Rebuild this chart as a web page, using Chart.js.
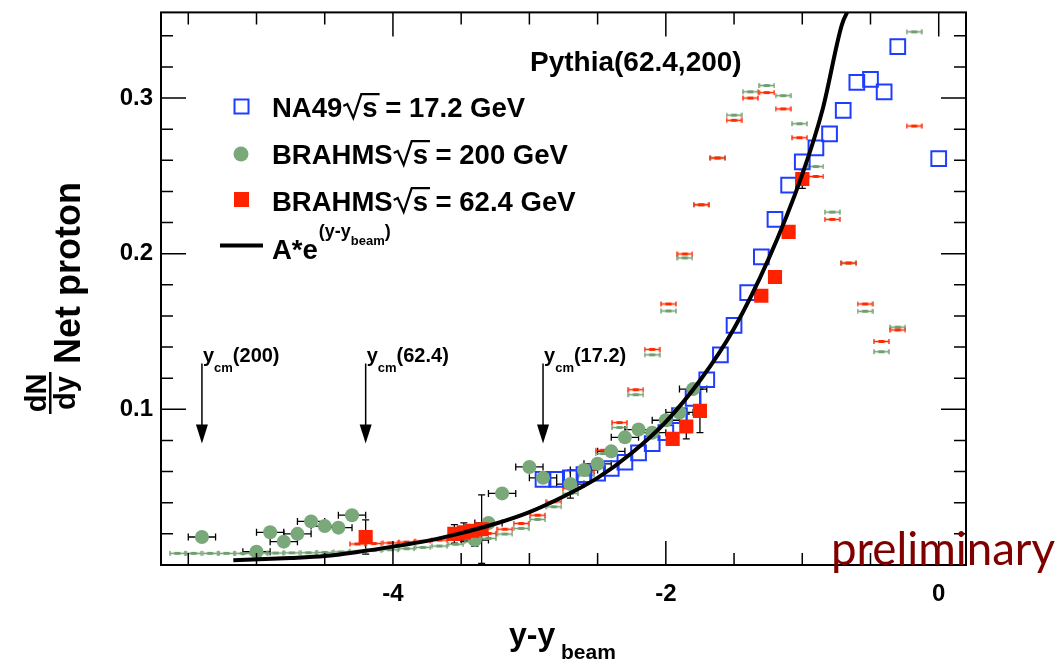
<!DOCTYPE html>
<html>
<head>
<meta charset="utf-8">
<script src="https://cdn.jsdelivr.net/npm/chart.js@4.4.1/dist/chart.umd.min.js"></script>
<style>
	html, body { margin: 0; padding: 0; background: #fff; }
</style>
</head>
<body>
<canvas id="chart" width="1062" height="664"></canvas>
<script>
const FONT = '"Liberation Sans", Arial, Helvetica, sans-serif';
const BLUE = "#1f3dff";
const RED = "#ff2200";
const GREEN = "#79a879";
const PY_GREEN = "#6f9f6f";
const PY_RED = "#ff2a00";

const X_RANGE = [-5.7, 0.2];
const Y_RANGE = [0, 0.355];
const X_TICK_LABELS = [-4, -2, 0];
const Y_TICK_LABELS = [0.1, 0.2, 0.3];

const NA49_X = [-2.9, -2.8, -2.7, -2.6, -2.5, -2.4, -2.3, -2.2, -2.1, -2.0, -1.9, -1.8, -1.7, -1.6, -1.5, -1.4, -1.3, -1.2, -1.1, -1.0, -0.9, -0.8, -0.7, -0.6, -0.5, -0.4, -0.3, 0.0];
const NA49_Y = [0.055, 0.055, 0.056, 0.058, 0.059, 0.062, 0.066, 0.072, 0.078, 0.085, 0.096, 0.107, 0.119, 0.135, 0.154, 0.175, 0.198, 0.222, 0.244, 0.259, 0.268, 0.277, 0.292, 0.310, 0.312, 0.304, 0.333, 0.261];

const BR200_X = [-5.4, -5.0, -4.9, -4.8, -4.7, -4.6, -4.5, -4.4, -4.3, -3.4, -3.3, -3.2, -3.0, -2.9, -2.7, -2.6, -2.5, -2.4, -2.3, -2.2, -2.1, -2.0, -1.9, -1.8];
const BR200_Y = [0.018, 0.0085, 0.021, 0.015, 0.020, 0.028, 0.025, 0.024, 0.032, 0.016, 0.027, 0.046, 0.063, 0.056, 0.052, 0.061, 0.065, 0.073, 0.082, 0.087, 0.085, 0.093, 0.098, 0.113];
const BR200_XERR = [0.1, 0.1, 0.1, 0.1, 0.1, 0.1, 0.1, 0.1, 0.1, 0.1, 0.1, 0.1, 0.1, 0.1, 0.1, 0.1, 0.1, 0.1, 0.1, 0.1, 0.1, 0.1, 0.1, 0.1];
const BR200_YERR = [0, 0, 0, 0, 0, 0, 0, 0, 0, 0.004, 0, 0, 0, 0, 0.009, 0, 0, 0, 0, 0, 0, 0, 0, 0];

const BR62_X = [-4.2, -3.55, -3.48, -3.42, -3.35, -1.95, -1.85, -1.75, -1.3, -1.2, -1.1, -1.0];
const BR62_Y = [0.018, 0.020, 0.021, 0.022, 0.023, 0.081, 0.089, 0.099, 0.173, 0.185, 0.214, 0.248];
const BR62_YERR = [0.011, 0.006, 0.006, 0.004, 0.022, 0, 0.008, 0.014, 0, 0, 0, 0.006];

const FIT_X = [-5.17, -4.75, -4.5, -4.25, -4.0, -3.75, -3.5, -3.25, -3.0, -2.75, -2.5, -2.25, -2.0, -1.75, -1.5, -1.25, -1.0, -0.85, -0.71, -0.66];
const FIT_Y = [0.0030, 0.0045, 0.0058, 0.0085, 0.0118, 0.0155, 0.0205, 0.0265, 0.0340, 0.0440, 0.0560, 0.0720, 0.0920, 0.1185, 0.1520, 0.1960, 0.2510, 0.2930, 0.3470, 0.3570];

const PY200_X = [-5.58, -5.46, -5.34, -5.22, -5.10, -4.98, -4.86, -4.74, -4.62, -4.50, -4.38, -4.26, -4.14, -4.02, -3.90, -3.78, -3.66, -3.54, -3.42, -3.30, -3.18, -3.06, -2.94, -2.82, -2.70, -2.58, -2.46, -2.34, -2.22, -2.10, -1.98, -1.86, -1.74, -1.62, -1.50, -1.38, -1.26, -1.14, -1.02, -0.90, -0.78, -0.66, -0.54, -0.42, -0.30, -0.18];
const PY200_Y = [0.0075, 0.0075, 0.0075, 0.0075, 0.0075, 0.0076, 0.0077, 0.0078, 0.0079, 0.0081, 0.0084, 0.0088, 0.0093, 0.0098, 0.0105, 0.0113, 0.0122, 0.0133, 0.0150, 0.0171, 0.0199, 0.0235, 0.0293, 0.0374, 0.0460, 0.0577, 0.0716, 0.0883, 0.1094, 0.1350, 0.1632, 0.1973, 0.2314, 0.2615, 0.2890, 0.3040, 0.3080, 0.3015, 0.2835, 0.2560, 0.2267, 0.1940, 0.1630, 0.1370, 0.1528, 0.3425];

const PY62_X = [-4.26, -4.14, -4.02, -3.90, -3.78, -3.66, -3.54, -3.42, -3.30, -3.18, -3.06, -2.94, -2.82, -2.70, -2.58, -2.46, -2.34, -2.22, -2.10, -1.98, -1.86, -1.74, -1.62, -1.50, -1.38, -1.26, -1.14, -1.02, -0.90, -0.78, -0.66, -0.54, -0.42, -0.30, -0.18];
const PY62_Y = [0.0135, 0.0138, 0.0142, 0.0147, 0.0153, 0.0160, 0.0170, 0.0185, 0.0203, 0.0230, 0.0267, 0.0320, 0.0406, 0.0492, 0.0598, 0.0737, 0.0915, 0.1126, 0.1385, 0.1677, 0.1998, 0.2314, 0.2615, 0.2857, 0.3000, 0.3035, 0.2930, 0.2745, 0.2496, 0.2220, 0.1940, 0.1677, 0.1436, 0.1510, 0.2820];

const YCM_X = [-5.4, -4.2, -2.9];
const YCM_LABELS = ["(200)", "(62.4)", "(17.2)"];
const YCM_TOP = 0.1295;
const YCM_TIP = 0.078;

const toPoints = (xs, ys) => xs.map((v, i) => ({ x: v, y: ys[i] }));

// small ROOT-like bin marker: horizontal bar with end caps and a thicker centre
const binMarker = (color) => {
	const c = document.createElement("canvas");
	c.width = 17;
	c.height = 7;
	const g = c.getContext("2d");
	g.strokeStyle = color;
	g.fillStyle = color;
	g.lineWidth = 1.4;
	g.beginPath();
	g.moveTo(0.5, 3.5);
	g.lineTo(16.5, 3.5);
	g.moveTo(1, 1);
	g.lineTo(1, 6);
	g.moveTo(16, 1);
	g.lineTo(16, 6);
	g.stroke();
	g.fillRect(5.5, 2, 6, 3);
	return c;
};

// text with a ROOT style radical drawn over "s"
const sqrtText = (ctx, x, yb, pre, post, size) => {
	ctx.font = `bold ${size}px ${FONT}`;
	ctx.textAlign = "left";
	ctx.textBaseline = "alphabetic";
	ctx.fillText(pre, x, yb);
	x += ctx.measureText(pre).width + 1;
	const ws = ctx.measureText("s").width;
	const top = yb - size * 0.83;
	ctx.lineWidth = 2.2;
	ctx.lineJoin = "miter";
	ctx.beginPath();
	ctx.moveTo(x, yb - size * 0.4);
	ctx.lineTo(x + 4, yb - size * 0.47);
	ctx.lineTo(x + 10, yb + 1);
	ctx.lineTo(x + 18, top);
	ctx.lineTo(x + 20 + ws + 1, top);
	ctx.stroke();
	ctx.fillText("s", x + 19, yb);
	ctx.fillText(post, x + 19 + ws, yb);
};

const errorBars = (ctx, x, y, xs, ys, xerr, yerr) => {
	xs.forEach((v, i) => {
		const px = x.getPixelForValue(v);
		const py = y.getPixelForValue(ys[i]);
		if (xerr && xerr[i] > 0) {
			const l = x.getPixelForValue(v - xerr[i]);
			const r = x.getPixelForValue(v + xerr[i]);
			ctx.beginPath();
			ctx.moveTo(l, py);
			ctx.lineTo(r, py);
			ctx.moveTo(l, py - 3.5);
			ctx.lineTo(l, py + 3.5);
			ctx.moveTo(r, py - 3.5);
			ctx.lineTo(r, py + 3.5);
			ctx.stroke();
		}
		if (yerr && yerr[i] > 0) {
			const t = y.getPixelForValue(ys[i] + yerr[i]);
			const b = y.getPixelForValue(Math.max(ys[i] - yerr[i], 0));
			ctx.beginPath();
			ctx.moveTo(px, t);
			ctx.lineTo(px, b);
			ctx.moveTo(px - 3.5, t);
			ctx.lineTo(px + 3.5, t);
			ctx.moveTo(px - 3.5, b);
			ctx.lineTo(px + 3.5, b);
			ctx.stroke();
		}
	});
};

const rootDecor = {
	id: "rootDecor",
	beforeDatasetsDraw(chart) {
		const { ctx, chartArea: a, scales: { x, y } } = chart;
		ctx.save();
		ctx.beginPath();
		ctx.rect(a.left, a.top, a.right - a.left, a.bottom - a.top);
		ctx.clip();
		ctx.strokeStyle = "#000";
		ctx.lineWidth = 1.3;
		errorBars(ctx, x, y, BR200_X, BR200_Y, BR200_XERR, BR200_YERR);
		errorBars(ctx, x, y, BR62_X, BR62_Y, null, BR62_YERR);

		// y_cm arrows
		YCM_X.forEach((v, i) => {
			const px = x.getPixelForValue(v);
			const top = y.getPixelForValue(YCM_TOP);
			const tip = y.getPixelForValue(YCM_TIP);
			ctx.fillStyle = "#000";
			ctx.lineWidth = 1.5;
			ctx.beginPath();
			ctx.moveTo(px, top);
			ctx.lineTo(px, tip - 12);
			ctx.stroke();
			ctx.beginPath();
			ctx.moveTo(px - 6, tip - 19);
			ctx.lineTo(px + 6, tip - 19);
			ctx.lineTo(px, tip);
			ctx.closePath();
			ctx.fill();
			let tx = px + 1;
			ctx.textAlign = "left";
			ctx.textBaseline = "alphabetic";
			ctx.font = `bold 20px ${FONT}`;
			ctx.fillText("y", tx, top - 1);
			tx += ctx.measureText("y").width;
			ctx.font = `bold 13px ${FONT}`;
			ctx.fillText("cm", tx, top + 9);
			tx += ctx.measureText("cm").width;
			ctx.font = `bold 20px ${FONT}`;
			ctx.fillText(YCM_LABELS[i], tx, top - 1);
		});
		ctx.restore();
	},
	afterDatasetsDraw(chart) {
		const { ctx, chartArea: a, scales: { x, y } } = chart;
		ctx.save();
		ctx.strokeStyle = "#000";
		ctx.fillStyle = "#000";

		// ticks on all four sides
		ctx.lineWidth = 1.5;
		ctx.beginPath();
		for (let k = -11; k <= 0; k++) {
			const v = k / 2;
			const px = x.getPixelForValue(v);
			const len = k % 4 === 0 ? 24 : 12;
			ctx.moveTo(px, a.bottom);
			ctx.lineTo(px, a.bottom - len);
			ctx.moveTo(px, a.top);
			ctx.lineTo(px, a.top + len);
		}
		for (let k = 1; k <= 17; k++) {
			const v = k * 0.02;
			const py = y.getPixelForValue(v);
			const len = k % 5 === 0 ? 25 : 12;
			ctx.moveTo(a.left, py);
			ctx.lineTo(a.left + len, py);
			ctx.moveTo(a.right, py);
			ctx.lineTo(a.right - len, py);
		}
		ctx.stroke();
		ctx.lineWidth = 2;
		ctx.strokeRect(a.left, a.top, a.right - a.left, a.bottom - a.top);

		// tick labels
		ctx.font = `bold 24px ${FONT}`;
		ctx.textAlign = "center";
		ctx.textBaseline = "middle";
		X_TICK_LABELS.forEach((v) => ctx.fillText(String(v), x.getPixelForValue(v), 594));
		ctx.textAlign = "right";
		Y_TICK_LABELS.forEach((v) => ctx.fillText(v.toFixed(1), 153, y.getPixelForValue(v)));

		// axis titles
		ctx.textAlign = "left";
		ctx.textBaseline = "alphabetic";
		ctx.font = `bold 32px ${FONT}`;
		ctx.fillText("y-y", 509, 645);
		ctx.font = `bold 21px ${FONT}`;
		ctx.fillText("beam", 561, 659);

		ctx.save();
		ctx.rotate(-Math.PI / 2);
		ctx.textAlign = "center";
		ctx.font = `bold 29px ${FONT}`;
		ctx.fillText("dN", -393, 46);
		ctx.fillText("dy", -393, 75);
		ctx.fillRect(-414, 49, 42, 2.5);
		ctx.textAlign = "left";
		ctx.font = `bold 36px ${FONT}`;
		ctx.fillText("Net proton", -364, 80);
		ctx.restore();

		// legend
		ctx.lineWidth = 2;
		ctx.strokeStyle = BLUE;
		ctx.strokeRect(234.5, 99.5, 14, 14);
		ctx.fillStyle = GREEN;
		ctx.beginPath();
		ctx.arc(241, 154, 7.5, 0, Math.PI * 2);
		ctx.fill();
		ctx.fillStyle = RED;
		ctx.fillRect(234, 192, 15, 15);
		ctx.fillStyle = "#000";
		ctx.strokeStyle = "#000";
		ctx.lineWidth = 4;
		ctx.beginPath();
		ctx.moveTo(220, 245.5);
		ctx.lineTo(263, 245.5);
		ctx.stroke();
		sqrtText(ctx, 272, 117, "NA49", " = 17.2 GeV", 27.5);
		sqrtText(ctx, 272, 164, "BRAHMS", " = 200 GeV", 27.5);
		sqrtText(ctx, 272, 211, "BRAHMS", " = 62.4 GeV", 27.5);
		ctx.font = `bold 27.5px ${FONT}`;
		ctx.fillText("A*e", 272, 259);
		let ex = 272 + ctx.measureText("A*e").width + 1;
		ctx.font = `bold 18px ${FONT}`;
		ctx.fillText("(y-y", ex, 237);
		ex += ctx.measureText("(y-y").width;
		ctx.font = `bold 13px ${FONT}`;
		ctx.fillText("beam", ex, 245);
		ex += ctx.measureText("beam").width;
		ctx.font = `bold 18px ${FONT}`;
		ctx.fillText(")", ex, 237);

		ctx.font = `bold 28px ${FONT}`;
		ctx.fillText("Pythia(62.4,200)", 530, 71);

		// preliminary stamp
		ctx.font = `46px Lato, "Open Sans", sans-serif`;
		ctx.fillStyle = "#800000";
		const w = ctx.measureText("preliminary").width;
		ctx.translate(831, 565);
		ctx.scale(224 / w, 1);
		ctx.fillText("preliminary", 0, 0);
		ctx.restore();
	},
};

new Chart(document.getElementById("chart"), {
	type: "scatter",
	data: {
		datasets: [
			{
				label: "fit",
				type: "line",
				data: toPoints(FIT_X, FIT_Y),
				borderColor: "#000",
				borderWidth: 4,
				pointRadius: 0,
				cubicInterpolationMode: "monotone",
				fill: false,
				order: 0,
			},
			{
				label: "BRAHMS 62.4",
				data: toPoints(BR62_X, BR62_Y),
				pointStyle: "rect",
				pointRadius: 10,
				backgroundColor: RED,
				borderWidth: 0,
				order: 1,
			},
			{
				label: "BRAHMS 200",
				data: toPoints(BR200_X, BR200_Y),
				pointStyle: "circle",
				pointRadius: 7,
				backgroundColor: GREEN,
				borderWidth: 0,
				order: 2,
			},
			{
				label: "NA49",
				data: toPoints(NA49_X, NA49_Y),
				pointStyle: "rect",
				pointRadius: 10.4,
				backgroundColor: "rgba(0,0,0,0)",
				borderColor: BLUE,
				borderWidth: 2,
				order: 3,
			},
			{
				label: "Pythia 62.4",
				data: toPoints(PY62_X, PY62_Y),
				pointStyle: binMarker(PY_RED),
				pointRadius: 3,
				order: 4,
			},
			{
				label: "Pythia 200",
				data: toPoints(PY200_X, PY200_Y),
				pointStyle: binMarker(PY_GREEN),
				pointRadius: 3,
				order: 5,
			},
		],
	},
	plugins: [rootDecor],
	options: {
		responsive: false,
		animation: false,
		devicePixelRatio: 1,
		layout: { padding: { left: 161, top: 11, right: 96, bottom: 99 } },
		plugins: { legend: { display: false }, tooltip: { enabled: false } },
		scales: {
			x: { type: "linear", min: X_RANGE[0], max: X_RANGE[1], display: false },
			y: { type: "linear", min: Y_RANGE[0], max: Y_RANGE[1], display: false },
		},
	},
});
</script>
</body>
</html>
